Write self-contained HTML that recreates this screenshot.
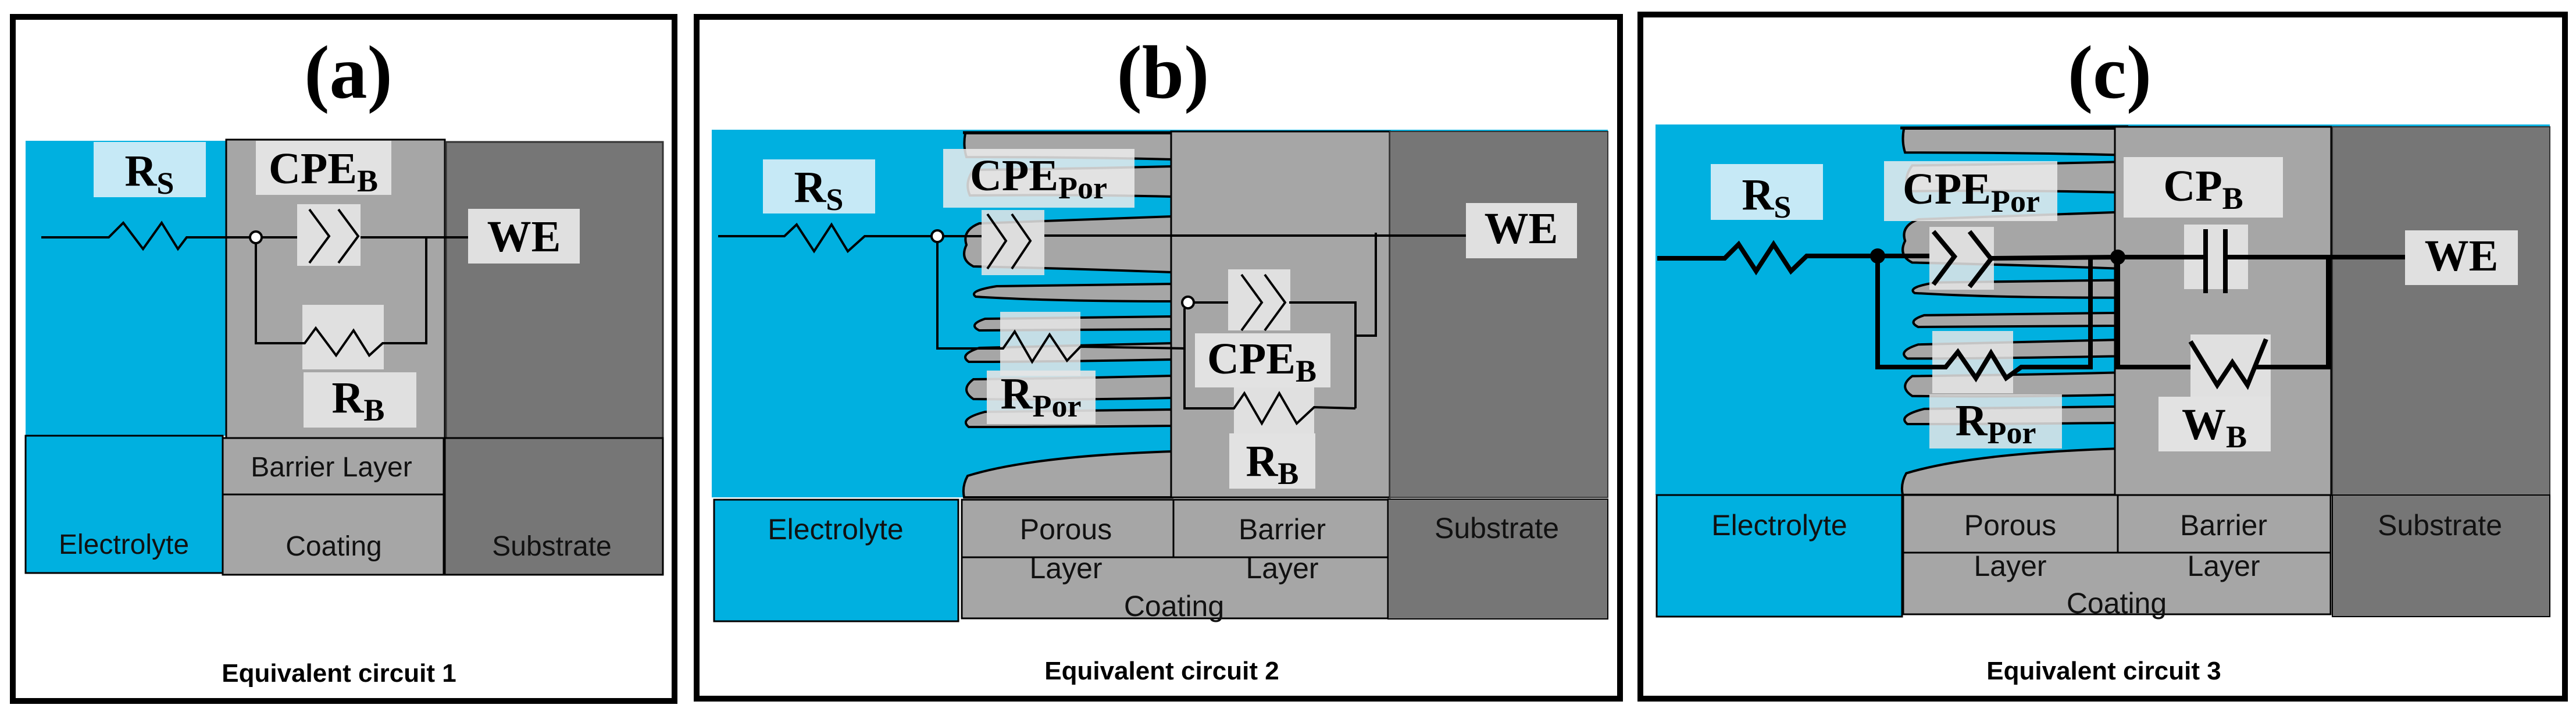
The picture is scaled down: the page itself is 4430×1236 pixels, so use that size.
<!DOCTYPE html>
<html><head><meta charset="utf-8"><style>
html,body{margin:0;padding:0;background:#fff;}
svg{display:block;}
.s{font-family:"Liberation Sans",sans-serif;font-size:48px;fill:#111;text-anchor:middle;}
.n{font-family:"Liberation Sans",sans-serif;font-size:50px;fill:#111;text-anchor:middle;}
.t{font-family:"Liberation Serif",serif;font-weight:bold;font-size:130px;fill:#000;text-anchor:middle;}
.l{font-family:"Liberation Serif",serif;font-weight:bold;font-size:76px;fill:#000;text-anchor:middle;}
.c{font-family:"Liberation Sans",sans-serif;font-weight:bold;font-size:44px;fill:#000;text-anchor:middle;}
.w{fill:none;stroke:#000;stroke-width:4;}
.W{fill:none;stroke:#000;stroke-width:8;}
.f{fill:#a6a6a6;stroke:#000;stroke-width:4;}
</style></head><body>
<svg width="4430" height="1236" viewBox="0 0 4430 1236" xmlns="http://www.w3.org/2000/svg">
<defs>
<g id="fing">
<path class="f" d="M362,3 L6,3 Q2,25 8,44 Q200,44 362,48 Z"/>
<path class="f" d="M362,60 Q200,64 20,66 Q4,88 14,110 Q200,108 362,112 Z"/>
<path class="f" d="M362,146 Q200,152 30,158 Q0,170 8,195 Q-4,220 20,232 Q200,236 362,242 Z"/>
<path class="f" d="M362,262 Q200,264 60,266 Q10,274 24,284 Q150,292 362,292 Z"/>
<path class="f" d="M362,318 Q200,320 40,322 Q10,332 30,342 Q150,342 362,340 Z"/>
<path class="f" d="M362,364 Q200,368 30,372 Q-6,384 12,396 Q150,396 362,392 Z"/>
<path class="f" d="M362,420 Q200,424 20,426 Q-4,444 20,460 Q180,462 362,458 Z"/>
<path class="f" d="M362,478 Q200,480 40,482 Q-6,494 12,508 Q150,508 362,506 Z"/>
<path class="f" d="M362,550 Q120,558 10,592 Q0,610 4,629 L362,629 Z"/>
</g>
</defs>

<!-- ===== Panel a ===== -->
<rect x="22" y="29" width="1138" height="1176" fill="#fff" stroke="#000" stroke-width="10"/>
<text class="t" x="599" y="168">(a)</text>
<rect x="44" y="242" width="345" height="507" fill="#00b0e0"/>
<rect x="389" y="240" width="376" height="513" fill="#a6a6a6" stroke="#000" stroke-width="3"/>
<rect x="767" y="244" width="373" height="509" fill="#767676" stroke="#333" stroke-width="3"/>
<rect x="44" y="749" width="339" height="236" fill="#00b0e0" stroke="#000" stroke-width="3"/>
<rect x="383" y="753" width="380" height="97" fill="#a6a6a6" stroke="#000" stroke-width="3"/>
<rect x="383" y="850" width="380" height="138" fill="#a6a6a6" stroke="#000" stroke-width="3"/>
<rect x="765" y="753" width="375" height="235" fill="#767676" stroke="#000" stroke-width="3"/>
<text class="s" x="213" y="952">Electrolyte</text>
<text class="s" x="570" y="819">Barrier Layer</text>
<text class="s" x="574" y="955">Coating</text>
<text class="s" x="949" y="955">Substrate</text>
<text class="c" x="583" y="1172">Equivalent circuit 1</text>
<rect x="161" y="244" width="193" height="95" fill="#c6e9f6"/>
<text class="l" x="257" y="319">R<tspan font-size="54" dy="14">S</tspan></text>
<rect x="440" y="242" width="233" height="93" fill="#e2e2e2"/>
<text class="l" x="556" y="315">CPE<tspan font-size="54" dy="14">B</tspan></text>
<rect x="511" y="351" width="109" height="106" fill="#e0e0e0"/>
<rect x="805" y="359" width="192" height="94" fill="#e0e0e0"/>
<text class="l" x="901" y="432">WE</text>
<rect x="520" y="524" width="140" height="111" fill="#e0e0e0"/>
<rect x="522" y="640" width="194" height="95" fill="#e0e0e0"/>
<text class="l" x="616" y="709">R<tspan font-size="54" dy="14">B</tspan></text>
<polyline class="w" points="71,408 187,408 212,383 246,428 278,383 306,428 321,408 430,408"/>
<line x1="450" y1="408" x2="511" y2="408" class="w"/>
<line x1="620" y1="408" x2="805" y2="408" class="w"/>
<polyline class="w" points="532,360 566,406 532,452"/>
<polyline class="w" points="582,360 616,406 582,452"/>
<polyline class="w" points="440,418 440,590 524,590 543,564 578,611 608,568 635,611 658,590 733,590 733,408"/>
<circle cx="440" cy="408" r="10" fill="#fff" stroke="#000" stroke-width="4"/>

<!-- ===== Panel b ===== -->
<rect x="1198" y="29" width="1588" height="1172" fill="#fff" stroke="#000" stroke-width="10"/>
<text class="t" x="2000" y="168">(b)</text>
<rect x="1224" y="223" width="1541" height="632" fill="#00b0e0"/>
<use href="#fing" transform="translate(1654,226)"/>
<line x1="1656" y1="228" x2="2040" y2="228" stroke="#000" stroke-width="5"/>
<rect x="2014" y="226" width="376" height="629" fill="#a6a6a6" stroke="#000" stroke-width="3"/>
<rect x="2390" y="226" width="375" height="629" fill="#767676" stroke="#333" stroke-width="2"/>
<rect x="1228" y="859" width="420" height="209" fill="#00b0e0" stroke="#000" stroke-width="3"/>
<rect x="1654" y="859" width="364" height="99" fill="#a6a6a6" stroke="#000" stroke-width="3"/>
<rect x="2018" y="859" width="369" height="99" fill="#a6a6a6" stroke="#000" stroke-width="3"/>
<rect x="1654" y="958" width="733" height="105" fill="#a6a6a6" stroke="#000" stroke-width="3"/>
<rect x="2387" y="858" width="378" height="206" fill="#767676" stroke="#000" stroke-width="2"/>
<text class="n" x="1437" y="927">Electrolyte</text>
<text class="n" x="1833" y="927">Porous</text>
<text class="n" x="2205" y="927">Barrier</text>
<text class="n" x="2574" y="925">Substrate</text>
<text class="n" x="1833" y="994">Layer</text>
<text class="n" x="2205" y="994">Layer</text>
<text class="n" x="2019" y="1059">Coating</text>
<text class="c" x="1998" y="1168">Equivalent circuit 2</text>
<rect x="1312" y="274" width="193" height="93" fill="#c6e9f6"/>
<text class="l" x="1408" y="347">R<tspan font-size="54" dy="14">S</tspan></text>
<rect x="1622" y="256" width="329" height="101" fill="#ececec" fill-opacity="0.85"/>
<text class="l" x="1786" y="327">CPE<tspan font-size="54" dy="14">Por</tspan></text>
<rect x="1688" y="361" width="108" height="112" fill="#e6e6e6" fill-opacity="0.85"/>
<rect x="2521" y="349" width="191" height="95" fill="#e0e0e0"/>
<text class="l" x="2616" y="418">WE</text>
<rect x="1720" y="536" width="138" height="110" fill="#e6e6e6" fill-opacity="0.85"/>
<rect x="1697" y="637" width="187" height="92" fill="#e6e6e6" fill-opacity="0.9"/>
<text class="l" x="1790" y="702">R<tspan font-size="54" dy="14">Por</tspan></text>
<rect x="2112" y="463" width="107" height="105" fill="#e0e0e0"/>
<rect x="2122" y="666" width="138" height="79" fill="#e0e0e0"/>
<rect x="2055" y="573" width="233" height="93" fill="#e2e2e2"/>
<text class="l" x="2170" y="642">CPE<tspan font-size="54" dy="14">B</tspan></text>
<rect x="2114" y="745" width="148" height="95" fill="#e2e2e2"/>
<text class="l" x="2188" y="818">R<tspan font-size="54" dy="14">B</tspan></text>
<polyline class="w" points="1235,406 1349,406 1370,386 1400,432 1430,386 1458,432 1487,406 1602,406"/>
<line x1="1622" y1="406" x2="1688" y2="406" class="w"/>
<polyline class="w" points="1698,368 1730,414 1698,462"/>
<polyline class="w" points="1740,368 1772,414 1740,462"/>
<line x1="1796" y1="405" x2="2521" y2="405" class="w"/>
<polyline class="w" points="1612,416 1612,599 1725,599 1745,570 1775,622 1805,575 1835,620 1858,596 2037,599"/>
<line x1="2053" y1="520" x2="2112" y2="520" class="w"/>
<polyline class="w" points="2135,472 2170,520 2135,568"/>
<polyline class="w" points="2175,472 2210,520 2175,568"/>
<polyline class="w" points="2217,520 2331,520 2331,702"/>
<polyline class="w" points="2037,530 2037,702 2122,702 2140,676 2170,728 2200,676 2230,728 2260,700 2331,702"/>
<polyline class="w" points="2331,577 2366,577 2366,400"/>
<circle cx="1612" cy="406" r="10" fill="#fff" stroke="#000" stroke-width="4"/>
<circle cx="2043" cy="520" r="10" fill="#fff" stroke="#000" stroke-width="4"/>

<!-- ===== Panel c ===== -->
<rect x="2821" y="25" width="1590" height="1176" fill="#fff" stroke="#000" stroke-width="10"/>
<text class="t" x="3628" y="168">(c)</text>
<rect x="2847" y="214" width="1538" height="637" fill="#00b0e0"/>
<use href="#fing" transform="translate(3268,218) scale(1.025,1.006)"/>
<line x1="3268" y1="220" x2="3660" y2="218" stroke="#000" stroke-width="5"/>
<rect x="3637" y="218" width="372" height="633" fill="#a6a6a6" stroke="#000" stroke-width="3"/>
<rect x="4011" y="218" width="374" height="633" fill="#767676" stroke="#333" stroke-width="2"/>
<rect x="2849" y="851" width="422" height="209" fill="#00b0e0" stroke="#000" stroke-width="3"/>
<rect x="3273" y="851" width="369" height="99" fill="#a6a6a6" stroke="#000" stroke-width="3"/>
<rect x="3642" y="851" width="366" height="99" fill="#a6a6a6" stroke="#000" stroke-width="3"/>
<rect x="3273" y="950" width="735" height="106" fill="#a6a6a6" stroke="#000" stroke-width="3"/>
<rect x="4011" y="851" width="374" height="209" fill="#767676" stroke="#000" stroke-width="2"/>
<text class="n" x="3060" y="920">Electrolyte</text>
<text class="n" x="3457" y="920">Porous</text>
<text class="n" x="3824" y="920">Barrier</text>
<text class="n" x="4196" y="920">Substrate</text>
<text class="n" x="3457" y="990">Layer</text>
<text class="n" x="3824" y="990">Layer</text>
<text class="n" x="3640" y="1054">Coating</text>
<text class="c" x="3618" y="1168">Equivalent circuit 3</text>
<rect x="2942" y="282" width="193" height="96" fill="#c6e9f6"/>
<text class="l" x="3038" y="360">R<tspan font-size="54" dy="14">S</tspan></text>
<rect x="3240" y="277" width="298" height="103" fill="#ececec" fill-opacity="0.85"/>
<text class="l" x="3390" y="350">CPE<tspan font-size="54" dy="14">Por</tspan></text>
<rect x="3652" y="270" width="274" height="104" fill="#e2e2e2"/>
<text class="l" x="3789" y="345">CP<tspan font-size="54" dy="14">B</tspan></text>
<rect x="3318" y="390" width="111" height="108" fill="#e6e6e6" fill-opacity="0.85"/>
<rect x="3756" y="386" width="110" height="111" fill="#e0e0e0"/>
<rect x="4136" y="396" width="194" height="94" fill="#e0e0e0"/>
<text class="l" x="4233" y="465">WE</text>
<rect x="3323" y="569" width="139" height="107" fill="#e6e6e6" fill-opacity="0.85"/>
<rect x="3318" y="678" width="228" height="93" fill="#e6e6e6" fill-opacity="0.85"/>
<text class="l" x="3432" y="748">R<tspan font-size="54" dy="14">Por</tspan></text>
<rect x="3767" y="575" width="138" height="109" fill="#e0e0e0"/>
<rect x="3712" y="682" width="193" height="94" fill="#e2e2e2"/>
<text class="l" x="3808" y="755">W<tspan font-size="54" dy="14">B</tspan></text>
<polyline class="W" points="2850,444 2966,444 2990,420 3020,466 3050,420 3080,466 3107,440 3229,440 3318,440"/>
<polyline class="W" points="3325,398 3361,441 3325,489"/>
<polyline class="W" points="3387,398 3424,445 3387,493"/>
<polyline class="W" points="3424,444 3642,442 3793,442"/>
<line x1="3793" y1="394" x2="3793" y2="504" class="W"/>
<line x1="3827" y1="394" x2="3827" y2="504" class="W"/>
<line x1="3827" y1="442" x2="4136" y2="442" class="W"/>
<polyline class="W" points="3229,440 3229,631 3346,631 3367,605 3398,650 3424,607 3450,650 3476,631 3595,631 3595,444"/>
<polyline class="W" points="3642,440 3642,631 3767,631"/>
<polyline class="W" points="3767,587 3813,662 3839,623 3865,662 3897,583"/>
<polyline class="W" points="3880,631 4004,631 4004,444"/>
<circle cx="3229" cy="440" r="13" fill="#000"/>
<circle cx="3642" cy="442" r="13" fill="#000"/>
</svg>
</body></html>
